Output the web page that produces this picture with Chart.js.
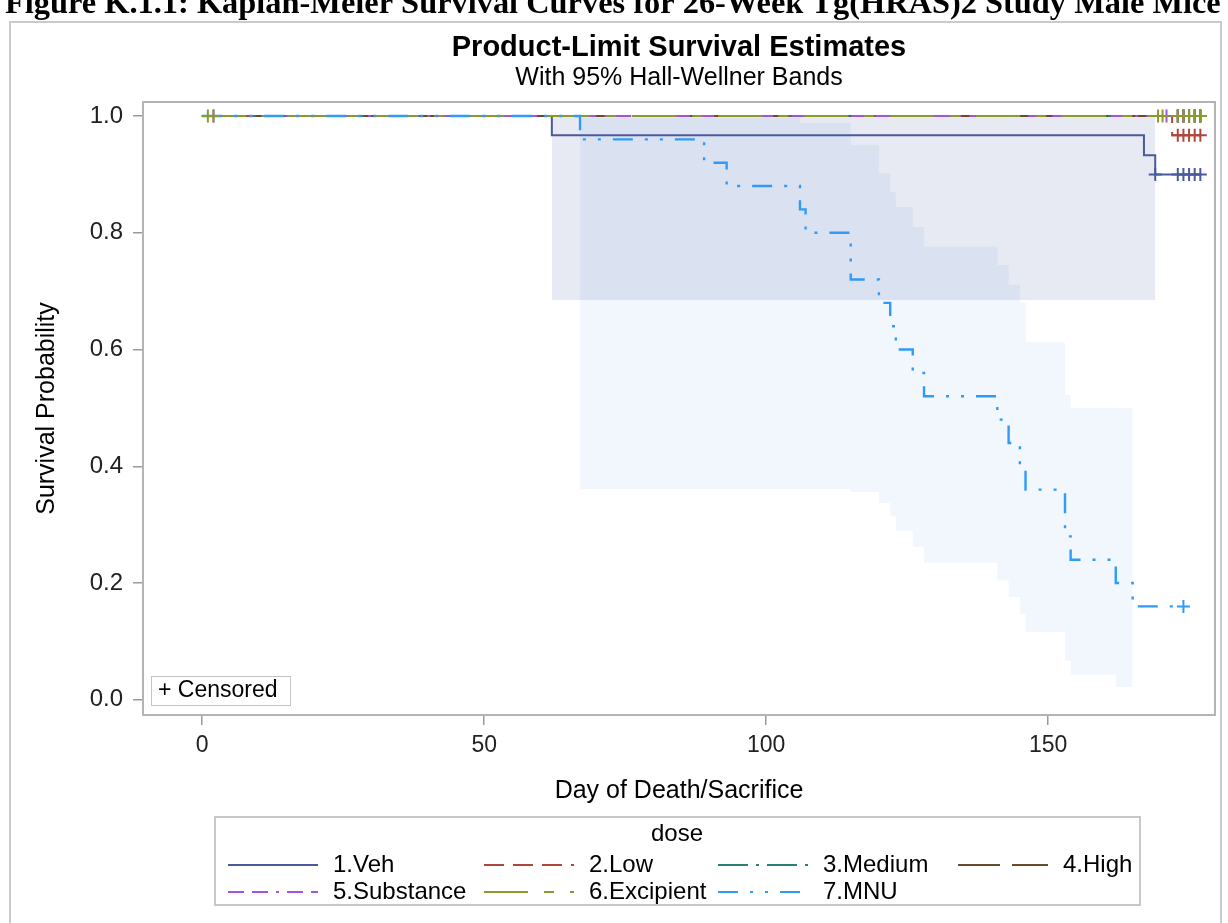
<!DOCTYPE html>
<html>
<head>
<meta charset="utf-8">
<script src="https://cdn.jsdelivr.net/npm/chart.js@4/dist/chart.umd.min.js"></script>
<style>
  html, body { margin: 0; padding: 0; background: #fff; }
  #kmChart { display: block; }
</style>
</head>
<body>
<canvas id="kmChart" width="1228" height="923"></canvas>
<script>
// --- data ---
const groups = ['1.Veh', '2.Low', '3.Medium', '4.High', '5.Substance', '6.Excipient', '7.MNU'];

const vehDays = [0, 62, 167, 169, 177];
const vehSurv = [1, 0.967, 0.933, 0.9, 0.9];
const lowDays = [0, 172, 177];
const lowSurv = [1, 0.967, 0.967];
const medDays = [0, 177];
const medSurv = [1, 1];
const highDays = [0, 177];
const highSurv = [1, 1];
const subDays = [0, 177];
const subSurv = [1, 1];
const excDays = [0, 177];
const excSurv = [1, 1];
const mnuDays = [0, 67, 89, 93, 106, 107, 115, 120, 122, 123, 126, 128, 141, 143, 145, 146, 153, 154, 162, 165, 174];
const mnuSurv = [1, 0.96, 0.92, 0.88, 0.84, 0.80, 0.72, 0.68, 0.64, 0.60, 0.56, 0.52, 0.48, 0.44, 0.40, 0.36, 0.28, 0.24, 0.20, 0.16, 0.16];

// censored times
const vehCens = [169, 173, 174, 175, 176, 177];
const lowCens = [173, 174, 175, 176, 177];
const medCens = [173, 174, 175, 176, 177];
const highCens = [173, 174, 175, 176, 177];
const subCens = [2, 171, 173, 174, 175, 176, 177];
const excCens = [1, 2, 169.5, 170.3, 173, 174, 175, 176, 177];
const mnuCens = [174];

// Hall-Wellner bands
const vehBandDays = [62, 169];
const vehBandUpper = [1, 1];
const vehBandLower = [0.685, 0.685];
const mnuBandDays = [67, 106, 115, 120, 122, 123, 126, 128, 141, 143, 145, 146, 153, 154, 162, 165];
const mnuBandUpper = [0.997, 0.988, 0.95, 0.902, 0.870, 0.844, 0.81, 0.776, 0.745, 0.711, 0.68, 0.613, 0.522, 0.50, 0.50, 0.50];
const mnuBandLower = [0.361, 0.361, 0.356, 0.337, 0.315, 0.29, 0.262, 0.235, 0.205, 0.176, 0.147, 0.116, 0.067, 0.043, 0.022, 0.022];

const xTicks = [0, 50, 100, 150];
const yTicks = [0, 0.2, 0.4, 0.6, 0.8, 1.0];

// --- styles ---
const lineColors = ['#4b5a9b', '#b0463b', '#2a7f77', '#6a4a28', '#a253e0', '#8c9a2c', '#2f9af8'];
const lineDashes = [[], [20, 9], [30, 8, 3, 8], [42, 12], [16, 8, 16, 8, 3, 8], [44, 16, 10, 16], [20, 12, 3, 12, 3, 12]];
const lineWidths = [2, 2, 2, 2, 2, 2.2, 2.4];
const FONT = '"Liberation Sans", Arial, sans-serif';

const curveDays = [vehDays, lowDays, medDays, highDays, subDays, excDays, mnuDays];
const curveSurv = [vehSurv, lowSurv, medSurv, highSurv, subSurv, excSurv, mnuSurv];
const censDays = [vehCens, lowCens, medCens, highCens, subCens, excCens, mnuCens];

function survAt(days, surv, t) {
  let s = surv[0];
  for (let i = 0; i < days.length; i++) if (days[i] <= t) s = surv[i];
  return s;
}
const pts = (xs, ys) => xs.map((x, i) => ({ x: x, y: ys[i] }));

const datasets = [];
// bands (drawn first)
datasets.push({ data: pts(mnuBandDays, mnuBandUpper), stepped: true, borderWidth: 0, pointRadius: 0,
  fill: '+1', backgroundColor: 'rgba(40,130,220,0.065)', order: 9 });
datasets.push({ data: pts(mnuBandDays, mnuBandLower), stepped: true, borderWidth: 0, pointRadius: 0, fill: false, order: 9 });
datasets.push({ data: pts(vehBandDays, vehBandUpper), stepped: true, borderWidth: 0, pointRadius: 0,
  fill: '+1', backgroundColor: 'rgba(72,88,160,0.13)', order: 8 });
datasets.push({ data: pts(vehBandDays, vehBandLower), stepped: true, borderWidth: 0, pointRadius: 0, fill: false, order: 8 });

groups.forEach((g, i) => {
  datasets.push({
    label: g,
    data: pts(curveDays[i], curveSurv[i]),
    stepped: true,
    borderColor: lineColors[i],
    borderWidth: lineWidths[i],
    borderDash: lineDashes[i],
    pointRadius: 0,
    fill: false,
    order: 2 - i * 0.1
  });
  datasets.push({
    label: g + ' censored',
    data: censDays[i].map(t => ({ x: t, y: survAt(curveDays[i], curveSurv[i], t) })),
    showLine: false,
    pointStyle: 'cross',
    pointRadius: 6.5,
    pointBorderWidth: 2,
    pointBorderColor: lineColors[i],
    pointBackgroundColor: lineColors[i],
    order: 1 - i * 0.1
  });
});

const decor = {
  id: 'decor',
  beforeDraw(chart) {
    const ctx = chart.ctx;
    const ca = chart.chartArea;
    ctx.save();
    ctx.fillStyle = '#fff';
    ctx.fillRect(0, 0, chart.width, chart.height);
    // figure caption, cut off at the top edge
    const caption = 'Figure K.1.1: Kaplan-Meier Survival Curves for 26-Week Tg(HRAS)2 Study Male Mice';
    let fs = 30;
    ctx.font = 'bold ' + fs + 'px "Liberation Serif", "Times New Roman", serif';
    fs = fs * 1215 / ctx.measureText(caption).width;
    ctx.font = 'bold ' + fs.toFixed(1) + 'px "Liberation Serif", "Times New Roman", serif';
    ctx.fillStyle = '#000';
    ctx.textAlign = 'left';
    ctx.textBaseline = 'alphabetic';
    ctx.fillText(caption, 5, 13);
    // outer frame
    ctx.strokeStyle = '#cacaca';
    ctx.lineWidth = 2;
    ctx.strokeRect(10, 22, 1211, 920);
    // titles
    const cx = (ca.left + ca.right) / 2;
    ctx.textAlign = 'center';
    ctx.textBaseline = 'middle';
    ctx.font = 'bold 29px ' + FONT;
    ctx.fillText('Product-Limit Survival Estimates', cx, 48);
    ctx.font = '25px ' + FONT;
    ctx.fillText('With 95% Hall-Wellner Bands', cx, 78);
    ctx.restore();
  },
  beforeDatasetsDraw(chart) {
    const ctx = chart.ctx;
    const ca = chart.chartArea;
    ctx.save();
    ctx.strokeStyle = '#b4b4b4';
    ctx.lineWidth = 2;
    ctx.strokeRect(ca.left, ca.top, ca.right - ca.left, ca.bottom - ca.top);
    ctx.restore();
  },
  afterDraw(chart) {
    const ctx = chart.ctx;
    ctx.save();
    // censored key
    ctx.fillStyle = '#fff';
    ctx.fillRect(151, 676, 139, 29);
    ctx.strokeStyle = '#c4c4c4';
    ctx.lineWidth = 1;
    ctx.strokeRect(151.5, 676.5, 139, 29);
    ctx.fillStyle = '#000';
    ctx.font = '23px ' + FONT;
    ctx.textAlign = 'left';
    ctx.textBaseline = 'middle';
    ctx.fillText('+ Censored', 158, 691);
    // legend
    ctx.strokeStyle = '#c8c8c8';
    ctx.lineWidth = 2;
    ctx.strokeRect(215, 817, 925, 88);
    ctx.textAlign = 'center';
    ctx.font = '24px ' + FONT;
    ctx.fillText('dose', 677, 834);
    const colX = [228, 484, 718, 958];
    const rowY = [865, 892];
    groups.forEach((g, i) => {
      const x = colX[i % 4], y = rowY[Math.floor(i / 4)];
      ctx.beginPath();
      ctx.setLineDash(lineDashes[i]);
      ctx.strokeStyle = lineColors[i];
      ctx.lineWidth = 2;
      ctx.moveTo(x, y);
      ctx.lineTo(x + 90, y);
      ctx.stroke();
      ctx.setLineDash([]);
      ctx.textAlign = 'left';
      ctx.fillStyle = '#000';
      ctx.fillText(g, x + 105, y);
    });
    ctx.restore();
  }
};

new Chart(document.getElementById('kmChart'), {
  type: 'line',
  data: { datasets: datasets },
  plugins: [decor],
  options: {
    responsive: false,
    animation: false,
    events: [],
    layout: { padding: { left: 10, right: 13, top: 102, bottom: 108 } },
    plugins: { legend: { display: false }, tooltip: { enabled: false } },
    scales: {
      x: {
        type: 'linear',
        min: -10.5,
        max: 179.6,
        afterFit: s => { s.height = 100; },
        afterBuildTicks: s => { s.ticks = xTicks.map(v => ({ value: v })); },
        grid: { drawOnChartArea: false, tickLength: 10, color: '#9a9a9a', lineWidth: 1.5 },
        border: { display: false },
        ticks: { color: '#222', font: { family: FONT, size: 23 }, padding: 7, maxRotation: 0 },
        title: { display: true, text: 'Day of Death/Sacrifice', color: '#000',
          font: { family: FONT, size: 25 }, padding: { top: 0, bottom: 9 } }
      },
      y: {
        type: 'linear',
        min: -0.026,
        max: 1.024,
        afterFit: s => { s.width = 133; },
        afterBuildTicks: s => { s.ticks = yTicks.map(v => ({ value: v })); },
        grid: { drawOnChartArea: false, tickLength: 10, color: '#9a9a9a', lineWidth: 1.5 },
        border: { display: false },
        ticks: { color: '#222', font: { family: FONT, size: 24 }, padding: 10,
          callback: v => Number(v).toFixed(1) },
        title: { display: true, text: 'Survival Probability', color: '#000',
          font: { family: FONT, size: 25 }, padding: { top: 22, bottom: 0 } }
      }
    }
  }
});
</script>
</body>
</html>
